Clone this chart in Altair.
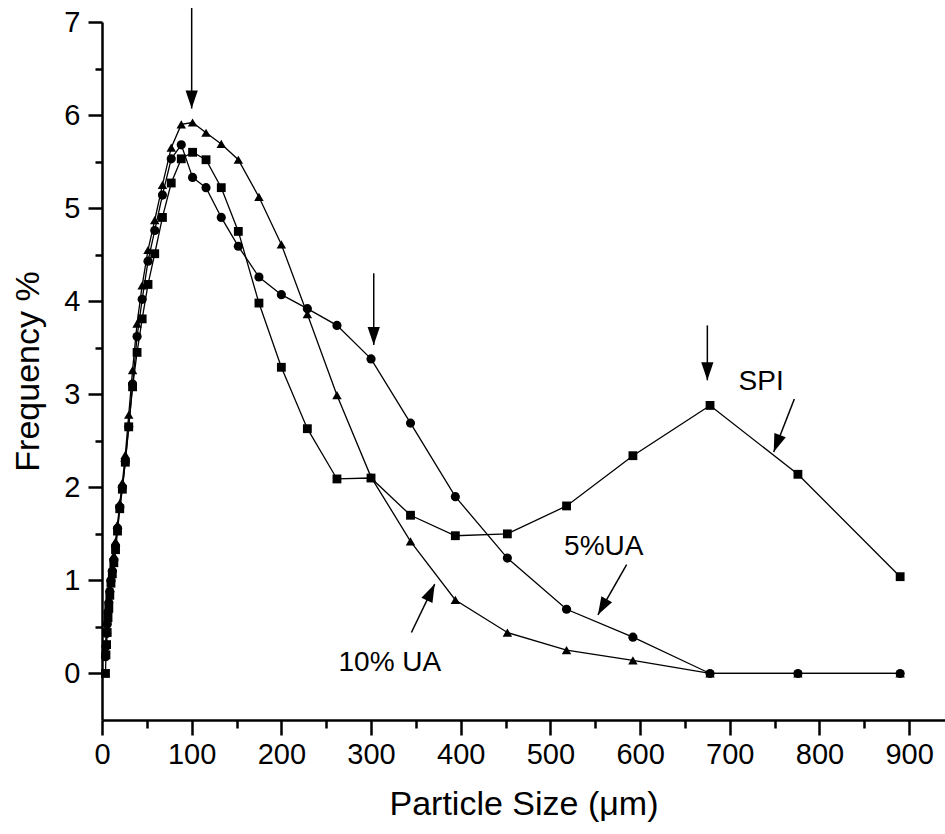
import altair as alt
import pandas as pd

# ---------------- data ----------------
x_bins = [3.9, 4.4, 5.1, 5.8, 6.7, 7.6, 8.7, 10.0, 11.5, 13.2, 15.1, 17.3, 19.8,
          22.7, 26.0, 29.8, 34.1, 39.1, 44.8, 51.3, 58.8, 67.4, 77.2, 88.4, 101,
          116, 133, 152, 175, 200, 229, 262, 300, 344, 394, 452, 518, 592, 678,
          776, 890]

spi = [0.00, 0.20, 0.31, 0.44, 0.60, 0.70, 0.84, 0.97, 1.07, 1.19, 1.33, 1.53,
       1.77, 1.98, 2.27, 2.65, 3.08, 3.45, 3.81, 4.18, 4.51, 4.90, 5.27, 5.53,
       5.60, 5.52, 5.22, 4.75, 3.98, 3.29, 2.63, 2.09, 2.10, 1.70, 1.48, 1.50,
       1.80, 2.34, 2.88, 2.14, 1.04]

ua5 = [0.18, 0.29, 0.43, 0.53, 0.66, 0.76, 0.88, 1.00, 1.10, 1.22, 1.37, 1.56,
       1.79, 2.00, 2.28, 2.65, 3.11, 3.62, 4.02, 4.43, 4.76, 5.14, 5.53, 5.68,
       5.33, 5.22, 4.90, 4.59, 4.26, 4.07, 3.92, 3.74, 3.38, 2.69, 1.90, 1.24,
       0.69, 0.39, 0.00, 0.00, 0.00]

ua10 = [0.25, 0.33, 0.47, 0.58, 0.70, 0.80, 0.92, 1.03, 1.14, 1.27, 1.42, 1.60,
        1.83, 2.05, 2.35, 2.78, 3.26, 3.76, 4.17, 4.55, 4.87, 5.25, 5.65, 5.90,
        5.92, 5.81, 5.69, 5.52, 5.12, 4.61, 3.86, 2.99, 2.11, 1.42, 0.79, 0.44,
        0.25, 0.14, 0.00, 0.00, 0.00]

series_names = ["SPI", "5%UA", "10% UA"]
series_shapes = ["square", "circle", "triangle-up"]
series_sizes = [78, 90, 150]

# annotation arrows (data units)
arrow_x = [100, 303, 675, 772, 585, 345]
arrow_y = [7.15, 4.30, 3.74, 2.95, 1.17, 0.44]
arrow_x2 = [100, 303, 675, 749, 553, 371]
arrow_y2 = [6.07, 3.53, 3.15, 2.38, 0.63, 0.96]
arrow_angle = [0, 0, 0, 20.8, 29.3, 205.6]

label_text = ["SPI", "5%UA", "10% UA"]
label_x = [735, 559.5, 321]
label_y = [3.13, 1.36, 0.11]

x_ticks = list(range(0, 901, 50))
y_ticks = [i * 0.5 for i in range(0, 15)]

# ---------------- tables ----------------
rows = []
for name, vals in zip(series_names, [spi, ua5, ua10]):
    for xv, yv in zip(x_bins, vals):
        rows.append({"series": name, "size": xv, "freq": yv})
df = pd.DataFrame(rows)

arrows = pd.DataFrame({"size": arrow_x, "freq": arrow_y, "size2": arrow_x2,
                       "freq2": arrow_y2, "angle": arrow_angle})
heads = pd.DataFrame({"size": arrow_x2, "freq": arrow_y2, "angle": arrow_angle})
labels = pd.DataFrame({"size": label_x, "freq": label_y, "text": label_text})

FONT = "Liberation Sans"

x_axis = alt.Axis(
    title="Particle Size (μm)", values=x_ticks, grid=False,
    labelExpr="datum.value % 100 != 0 ? '' : format(datum.value, 'd')",
    tickSize={"condition": {"test": "datum.value % 100 != 0", "value": 8}, "value": 15},
    tickWidth=2.5, domainWidth=2.5, domainColor="black", tickColor="black",
    labelFont=FONT, labelFontSize=29, labelColor="black", labelPadding=5,
    titleFont=FONT, titleFontSize=34, titleFontWeight="normal", titleColor="black",
    titlePadding=18, labelFlush=False, labelOverlap=False,
)
y_axis = alt.Axis(
    title="Frequency %", values=y_ticks, grid=False,
    labelExpr="datum.value % 1 != 0 ? '' : format(datum.value, 'd')",
    tickSize={"condition": {"test": "datum.value % 1 != 0", "value": 7}, "value": 14},
    tickWidth=2.5, domainWidth=2.5, domainColor="black", tickColor="black",
    labelFont=FONT, labelFontSize=29, labelColor="black", labelPadding=8,
    titleFont=FONT, titleFontSize=34, titleFontWeight="normal", titleColor="black",
    titlePadding=18, labelFlush=False, labelOverlap=False,
)

xs = alt.Scale(domain=[0, 940], nice=False, zero=False)
ys = alt.Scale(domain=[-0.5, 7], nice=False, zero=False)

X = alt.X("size:Q", scale=xs, axis=x_axis)
Y = alt.Y("freq:Q", scale=ys, axis=y_axis)

lines = alt.Chart(df).mark_line(color="black", strokeWidth=1.3).encode(
    x=X, y=Y, detail="series:N", order="size:Q"
)

points = alt.Chart(df).mark_point(filled=True, color="black", opacity=1).encode(
    x=X, y=Y,
    shape=alt.Shape("series:N", scale=alt.Scale(domain=series_names, range=series_shapes), legend=None),
    size=alt.Size("series:N", scale=alt.Scale(domain=series_names, range=series_sizes), legend=None),
)

shafts = alt.Chart(arrows).mark_rule(color="black", strokeWidth=1.5).encode(
    x=X, y=Y, x2="size2:Q", y2="freq2:Q"
)

arrow_heads = alt.Chart(heads).mark_point(
    shape="M0,0L-0.34,-1L0.34,-1Z", filled=True, color="black", opacity=1, size=1296
).encode(x=X, y=Y, angle=alt.Angle("angle:Q", scale=None))

texts = alt.Chart(labels).mark_text(
    font=FONT, fontSize=28, color="black", align="center", baseline="middle"
).encode(x=X, y=Y, text="text:N")

chart = alt.layer(lines, points, shafts, arrow_heads, texts).properties(
    width=843, height=698,
    autosize=alt.AutoSizeParams(type="none"),
    padding={"left": 102, "top": 22, "right": 0, "bottom": 114},
    background="white",
).configure_view(stroke=None)

chart.save("out.html", embed_options={"renderer": "svg", "actions": False})
